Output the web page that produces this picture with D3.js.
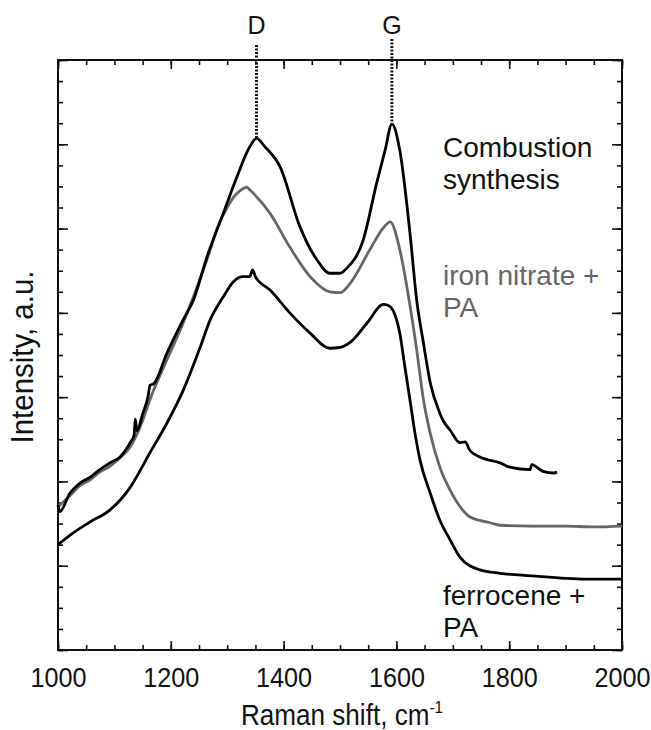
<!DOCTYPE html>
<html>
<head>
<meta charset="utf-8">
<script src="https://cdn.jsdelivr.net/npm/d3@7"></script>
<style>
  body { margin: 0; background: #fff; }
  text { font-family: "Liberation Sans", Arial, sans-serif; }
</style>
</head>
<body>
<div id="container"></div>
<script>
// Raman spectra (intensity in arbitrary units, 0..7)
const combWn = [1000, 1003, 1021, 1039, 1057, 1074, 1092, 1110, 1128, 1135, 1137, 1140, 1150, 1160, 1163, 1170, 1193, 1222, 1240, 1264, 1293, 1317, 1340, 1352, 1367, 1394, 1429, 1459, 1482, 1500, 1512, 1541, 1565, 1580, 1592, 1606, 1624, 1636, 1648, 1660, 1677, 1683, 1695, 1713, 1722, 1730, 1748, 1784, 1801, 1837, 1840, 1860, 1879, 1885];
const combI = [1.72, 1.64, 1.86, 1.98, 2.05, 2.14, 2.22, 2.29, 2.46, 2.55, 2.74, 2.60, 2.80, 3.02, 3.14, 3.16, 3.52, 3.92, 4.15, 4.66, 5.18, 5.61, 5.97, 6.07, 5.97, 5.73, 5.02, 4.63, 4.47, 4.47, 4.53, 4.86, 5.54, 5.93, 6.24, 5.93, 4.95, 4.15, 3.64, 3.17, 2.81, 2.72, 2.61, 2.46, 2.47, 2.37, 2.29, 2.22, 2.17, 2.14, 2.20, 2.12, 2.10, 2.11];

const ironWn = [1000, 1021, 1039, 1057, 1074, 1092, 1110, 1128, 1140, 1150, 1163, 1193, 1222, 1264, 1287, 1293, 1311, 1323, 1335, 1340, 1376, 1411, 1447, 1482, 1500, 1518, 1553, 1577, 1589, 1606, 1624, 1636, 1648, 1660, 1677, 1695, 1713, 1730, 1766, 1784, 1840, 1900, 1950, 2000];
const ironI = [1.70, 1.83, 1.95, 2.02, 2.11, 2.18, 2.28, 2.41, 2.56, 2.72, 2.97, 3.44, 3.88, 4.63, 5.08, 5.16, 5.37, 5.45, 5.49, 5.46, 5.18, 4.78, 4.43, 4.25, 4.24, 4.35, 4.75, 5.01, 5.08, 4.75, 4.09, 3.56, 2.97, 2.57, 2.17, 1.90, 1.70, 1.58, 1.51, 1.48, 1.47, 1.47, 1.46, 1.47];

const ferroWn = [1000, 1021, 1057, 1092, 1128, 1163, 1193, 1222, 1252, 1270, 1293, 1311, 1328, 1340, 1345, 1350, 1376, 1411, 1447, 1482, 1500, 1518, 1548, 1577, 1585, 1594, 1606, 1615, 1624, 1633, 1642, 1660, 1677, 1695, 1713, 1748, 1784, 1840, 1900, 1950, 2000];
const ferroI = [1.25, 1.36, 1.52, 1.66, 1.93, 2.34, 2.69, 3.08, 3.59, 3.92, 4.19, 4.37, 4.43, 4.43, 4.51, 4.43, 4.27, 4.00, 3.76, 3.58, 3.59, 3.65, 3.88, 4.10, 4.09, 4.03, 3.76, 3.36, 2.97, 2.57, 2.25, 1.86, 1.54, 1.31, 1.10, 0.95, 0.91, 0.88, 0.85, 0.84, 0.84];

const peakNames = ["D", "G"];
const peakWn = [1352, 1592];
const peakTop = [6.07, 6.24];

const xTickLabels = [1000, 1200, 1400, 1600, 1800, 2000];

const W = 651, H = 730;
const margin = { top: 60, right: 29, bottom: 80, left: 58 };
const w = W - margin.left - margin.right;
const h = H - margin.top - margin.bottom;

const svg = d3.select("#container").append("svg")
  .attr("width", W).attr("height", H);
const g = svg.append("g").attr("transform", `translate(${margin.left},${margin.top})`);

const x = d3.scaleLinear().domain([1000, 2000]).range([0, w]);
const y = d3.scaleLinear().domain([0, 7]).range([h, 0]);

const minorX = d3.range(1000, 2001, 50);
const minorY = d3.range(0, 7.01, 0.25);
const majorY = d3.range(0, 8, 1);

function style(sel) {
  sel.select(".domain").remove();
  sel.selectAll("line").attr("stroke", "#111").attr("stroke-width", 1.6);
}

// minor ticks, all four sides, pointing inward
g.append("g").attr("transform", `translate(0,${h})`)
  .call(d3.axisBottom(x).tickValues(minorX).tickSize(-5).tickFormat("")).call(style);
g.append("g")
  .call(d3.axisTop(x).tickValues(minorX).tickSize(-5).tickFormat("")).call(style);
g.append("g")
  .call(d3.axisLeft(y).tickValues(minorY).tickSize(-5).tickFormat("")).call(style);
g.append("g").attr("transform", `translate(${w},0)`)
  .call(d3.axisRight(y).tickValues(minorY).tickSize(-5).tickFormat("")).call(style);

// major ticks
const xAxis = g.append("g").attr("transform", `translate(0,${h})`)
  .call(d3.axisBottom(x).tickValues(xTickLabels).tickSize(-9).tickPadding(17).tickFormat(d3.format("d")))
  .call(style);
xAxis.selectAll("text").attr("font-size", 28).attr("fill", "#111")
  .attr("transform", "scale(0.9,1)")
  .style("font-family", '"Liberation Sans", Arial, sans-serif');
g.append("g")
  .call(d3.axisTop(x).tickValues(xTickLabels).tickSize(-9).tickFormat("")).call(style);
g.append("g")
  .call(d3.axisLeft(y).tickValues(majorY).tickSize(-10).tickFormat("")).call(style);
g.append("g").attr("transform", `translate(${w},0)`)
  .call(d3.axisRight(y).tickValues(majorY).tickSize(-10).tickFormat("")).call(style);

// frame
g.append("rect").attr("width", w).attr("height", h)
  .attr("fill", "none").attr("stroke", "#111").attr("stroke-width", 2);

const line = d3.line()
  .x(d => x(d[0]))
  .y(d => y(d[1]))
  .curve(d3.curveMonotoneX);

const series = [
  { wn: ironWn, val: ironI, color: "#666" },
  { wn: ferroWn, val: ferroI, color: "#000" },
  { wn: combWn, val: combI, color: "#000" }
];
series.forEach(s => {
  g.append("path")
    .datum(d3.zip(s.wn, s.val))
    .attr("fill", "none")
    .attr("stroke", s.color)
    .attr("stroke-width", 2.8)
    .attr("stroke-linejoin", "round")
    .attr("d", line);
});

// D and G peak markers
peakWn.forEach((p, i) => {
  g.append("line")
    .attr("x1", x(p)).attr("x2", x(p))
    .attr("y1", y(7) - (i === 0 ? 15 : 21)).attr("y2", y(peakTop[i]))
    .attr("stroke", "#111").attr("stroke-width", 3)
    .attr("stroke-dasharray", "2,1.5");
  g.append("text")
    .attr("x", x(p)).attr("y", -26)
    .attr("text-anchor", "middle")
    .attr("font-size", 25).attr("fill", "#111")
    .text(peakNames[i]);
});

// curve labels
const labels = [
  { lines: ["Combustion", "synthesis"], y0: 157, color: "#111" },
  { lines: ["iron nitrate +", "PA"], y0: 285, color: "#666" },
  { lines: ["ferrocene +", "PA"], y0: 605, color: "#111" }
];
labels.forEach(l => {
  l.lines.forEach((t, k) => {
    svg.append("text")
      .attr("x", 443).attr("y", l.y0 + k * 32)
      .attr("font-size", 28).attr("fill", l.color)
      .text(t);
  });
});

// axis titles
const xt = svg.append("text")
  .attr("transform", `translate(${margin.left + w / 2 + 2},725) scale(0.9,1)`)
  .attr("text-anchor", "middle").attr("font-size", 29).attr("fill", "#111");
xt.append("tspan").text("Raman shift, cm");
xt.append("tspan").attr("dy", -12).attr("font-size", 17).text("-1");

svg.append("text")
  .attr("transform", `translate(33,${margin.top + h / 2 + 2}) rotate(-90) scale(0.95,1)`)
  .attr("text-anchor", "middle").attr("font-size", 31).attr("fill", "#111")
  .text("Intensity, a.u.");
</script>
</body>
</html>
